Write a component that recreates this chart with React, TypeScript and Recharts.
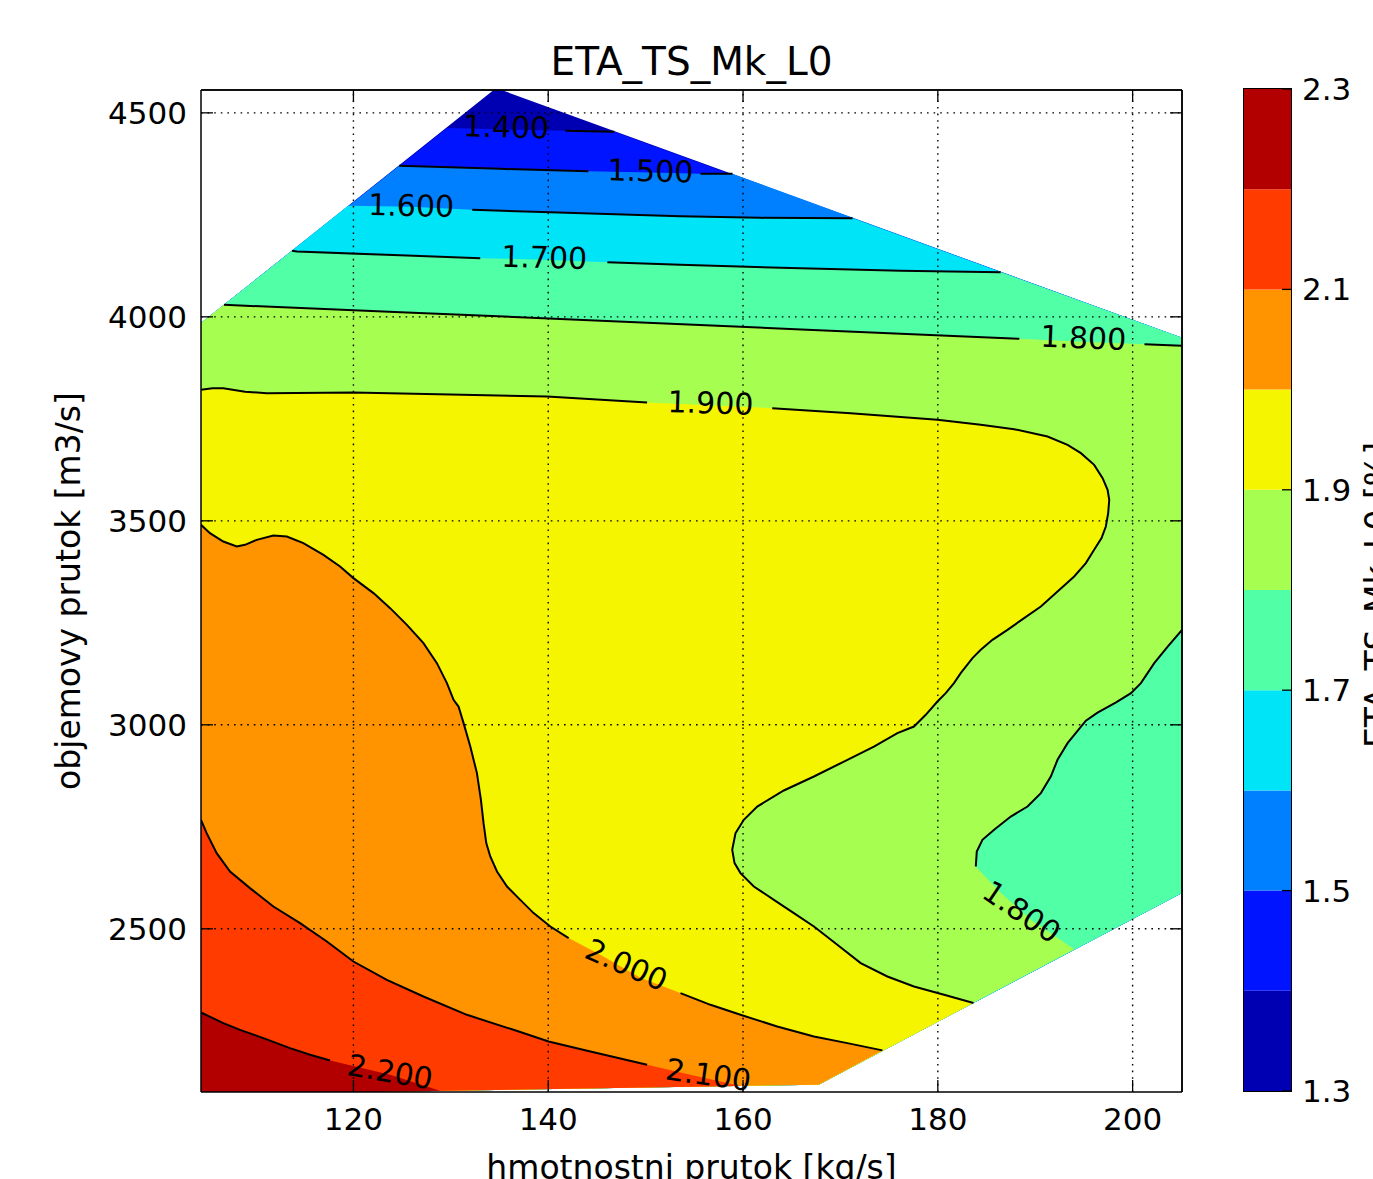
import React from 'react';
import { ComposedChart, Area, Line, Scatter, XAxis, YAxis, ReferenceLine, BarChart, Bar } from 'recharts';

type Pt = [number, number];

// contour levels and the colour of each band between two levels (jet)
const LEVELS = [1.3, 1.4, 1.5, 1.6, 1.7, 1.8, 1.9, 2.0, 2.1, 2.2, 2.3];
const BAND_COLORS = ['#0000b2', '#0014ff', '#0080ff', '#00e4f8', '#50ffa6', '#a6ff50', '#f5f500', '#ff9400', '#ff3b00', '#b20000'];

const X_TICKS = [120, 140, 160, 180, 200];
const Y_TICKS = [2500, 3000, 3500, 4000, 4500];
const CB_TICKS = [1.3, 1.5, 1.7, 1.9, 2.1, 2.3];
const X_DOMAIN: [number, number] = [104.35, 205.07];
const Y_DOMAIN: [number, number] = [2100, 4556];

// outline of the measured region (x = hmotnostni prutok, y = objemovy prutok)
const HULL: Pt[] = [
  [104.35, 2100], [104.35, 3985], [134.4, 4556], [135.2, 4556],
  [205.07, 3948.5], [205.07, 2588], [167.76, 2118], [122, 2100],
];

// iso-lines
const C140: Pt[] = [[129.63, 4463], [141.76, 4456], [146.79, 4453.4]];
const C150: Pt[] = [[124.7, 4370.1], [129.94, 4366.4], [135.07, 4362.7], [144.12, 4356.6], [150.49, 4354], [155.63, 4351], [158.2, 4350.5], [158.92, 4350.5]];
const C160: Pt[] = [[119.45, 4272], [125.9, 4270], [132.19, 4262.3], [140.2, 4256.1], [153.56, 4246.3], [161.78, 4242.6], [171.25, 4241.4]];
const C170: Pt[] = [[113.69, 4161.8], [114.21, 4160], [124.8, 4150.7], [133.02, 4143.9], [139.6, 4140], [146.07, 4134.1], [153.56, 4127.5], [165.9, 4118.9], [176.2, 4112.8], [186.45, 4109.1]];
const C180_TOP: Pt[] = [[106.71, 4029.4], [124.86, 4011.5], [145.41, 3990.4], [165.97, 3969.1], [188.37, 3946.1], [194.74, 3938.7], [201.22, 3932.9], [205.07, 3929]];
const C180_LOW: Pt[] = [
  [205.07, 3232.8], [203.6, 3191.9], [202.22, 3151.2], [200.85, 3102.2], [199.83, 3077.7], [198.3, 3055],
  [196.4, 3030], [195.2, 3010], [193.32, 2955.1], [192.29, 2914.2], [191.6, 2873.3], [190.58, 2832.6],
  [189.21, 2799.7], [187.49, 2775.2], [185.78, 2742.6], [184.58, 2718.1], [184, 2689.4], [183.9, 2652.7],
  [186.46, 2588.2], [189.55, 2522], [194.0, 2450],
];
const C190: Pt[] = [
  [104.35, 3821.1], [105.53, 3824.7], [106.64, 3825.2], [108.87, 3816.2], [111.1, 3813], [120, 3814.5],
  [129.94, 3809.6], [139.88, 3804.7], [150.15, 3790], [156.6, 3783], [163.0, 3776.2], [171.05, 3763.5],
  [179.96, 3747.5], [184.41, 3735.3], [187.83, 3724.7], [191.26, 3706.6], [193.32, 3686.3], [194.69, 3665.9],
  [196.05, 3637.2], [196.92, 3604.6], [197.43, 3576], [197.6, 3551.5], [197.49, 3518.9], [197.25, 3486],
  [196.81, 3457.6], [196.05, 3428.9], [195.2, 3396.3], [194.0, 3363.5], [192.29, 3326.7], [190.58, 3290],
  [188.86, 3261.5], [187.15, 3232.8], [185.61, 3208.3], [184.41, 3183.8], [183.56, 3163.5], [182.35, 3126.7],
  [181.66, 3102.2], [180.81, 3077.7], [179.96, 3057.1], [178.76, 3024.5], [177.55, 2995.8], [175.85, 2979.6],
  [173.44, 2946.8], [170.36, 2910], [167.28, 2873.3], [164.19, 2839], [161.46, 2799.7], [160.08, 2767.1],
  [159.23, 2734.6], [158.89, 2693.6], [159.13, 2661], [159.74, 2636.5], [161.11, 2603.7], [163.17, 2571.1],
  [165.22, 2538.5], [167.28, 2505.6], [169.68, 2460.8], [172.08, 2415.9], [174.82, 2383.1], [177.55, 2358.6],
  [180.64, 2338.2], [183.66, 2318],
];
const C200: Pt[] = [
  [104.35, 3490.2], [105.27, 3469.8], [106.64, 3449.3], [108.02, 3437], [108.87, 3441.2], [110.07, 3453.4],
  [111.78, 3464], [113.16, 3461.5], [114.86, 3445.3], [116.92, 3416.7], [118.63, 3388], [120, 3359.6],
  [122.06, 3322.8], [123.77, 3286], [125.49, 3245.1], [127.19, 3200.2], [128.57, 3151.2], [129.6, 3102.2],
  [130.28, 3061.3], [130.79, 3044.8], [131.31, 3004.2], [132, 2946.8], [132.68, 2881.6], [133.09, 2816.2],
  [133.36, 2759], [133.64, 2710], [134.05, 2677.2], [134.74, 2640.4], [135.77, 2603.7], [137.13, 2571],
  [138.5, 2538.5], [140.22, 2505.6], [142.1, 2477.2], [145.35, 2436.3], [149.47, 2380], [153.58, 2342.4],
  [156.66, 2313.7], [159.74, 2289.2], [163.51, 2260.5], [167.28, 2236], [170.71, 2219.8], [174.31, 2202],
];
const C210: Pt[] = [
  [104.35, 2767.1], [104.93, 2734.5], [105.96, 2685.5], [107.33, 2640.4], [109.38, 2599.7], [111.78, 2554.6],
  [114.52, 2513.9], [117.27, 2468.9], [120, 2419.8], [123.43, 2375], [127.19, 2334], [131.65, 2289.2],
  [136.44, 2252.4], [140.04, 2223.8], [144.33, 2199.2], [150.15, 2166.6], [154.6, 2142.1], [159.74, 2115],
];
const C220: Pt[] = [
  [104.35, 2294.8], [106.64, 2268.9], [108.36, 2252.4], [110.75, 2232.1], [113.49, 2207.6], [115.55, 2191.2],
  [117.6, 2177.2], [123.77, 2142.1], [128.9, 2103],
];

const CONTOUR_LABELS = [
  { level: 1.4, text: '1.400', x: 135.69, y: 4465.7, angle: 1.4, gapFrom: 129, gapTo: 141.5 },
  { level: 1.5, text: '1.500', x: 150.49, y: 4357.8, angle: 1.4, gapFrom: 144.5, gapTo: 155.3 },
  { level: 1.6, text: '1.600', x: 125.93, y: 4272.8, angle: 1.3, gapFrom: 119, gapTo: 132 },
  { level: 1.7, text: '1.700', x: 139.59, y: 4145.8, angle: 1.6, gapFrom: 133.5, gapTo: 145.8 },
  { level: 1.8, text: '1.800', x: 194.94, y: 3948.5, angle: 2.5, gapFrom: 188.6, gapTo: 201 },
  { level: 1.9, text: '1.900', x: 156.66, y: 3789, angle: 2, gapFrom: 150.5, gapTo: 162.8 },
  { level: 2.0, text: '2.000', x: 148.03, y: 2411.7, angle: 24, gapFrom: 142.3, gapTo: 153.3 },
  { level: 2.1, text: '2.100', x: 156.45, y: 2142.1, angle: 8, gapFrom: 150.5, gapTo: 162 },
  { level: 2.2, text: '2.200', x: 123.77, y: 2149.5, angle: 10, gapFrom: 117.8, gapTo: 135 },
  { level: 1.8, text: '1.800', x: 188.62, y: 2541.6, angle: 34, gapFrom: 184, gapTo: 195 },
];

const CONTOURS = [
  { level: 1.4, pts: C140 },
  { level: 1.5, pts: C150 },
  { level: 1.6, pts: C160 },
  { level: 1.7, pts: C170 },
  { level: 1.8, pts: C180_TOP },
  { level: 1.8, pts: C180_LOW },
  { level: 1.9, pts: C190 },
  { level: 2.0, pts: C200 },
  { level: 2.1, pts: C210 },
  { level: 2.2, pts: C220 },
];

// painter's order: each outline is the region where the value is >= its level
const [H1, H2, , , H3, H4, H5, H6] = HULL;
const BAND_OUTLINES: Pt[][] = [
  HULL,
  [H1, H2, ...C140, H3, H4, H5, H6],
  [H1, H2, ...C150, H3, H4, H5, H6],
  [H1, H2, ...C160, H3, H4, H5, H6],
  [H1, H2, ...C170, H3, H4, H5, H6],
  [H1, H2, ...C180_TOP, ...C180_LOW, H5, H6],
  [H1, ...C190, H5, H6],
  [H1, ...C200, H5, H6],
  [H1, ...C210, H6],
  [H1, ...C220, H6],
];

const toRing = (pts: Pt[]) => [...pts, pts[0]].map(([x, y]) => ({ x, y }));

const inGap = (level: number, x: number, y: number) =>
  CONTOUR_LABELS.some((l) => l.level === level && x > l.gapFrom && x < l.gapTo && Math.abs(y - l.y) < 150);

const lineData = (level: number, pts: Pt[]) => pts.map(([x, y]) => ({ x, y: inGap(level, x, y) ? null : y }));

const FONT = '"DejaVu Sans", Verdana, sans-serif';

const LabelShape = (props: any) => {
  const { cx, cy, payload } = props;
  return (
    <text
      x={cx}
      y={cy}
      transform={`rotate(${payload.angle} ${cx} ${cy})`}
      textAnchor="middle"
      dominantBaseline="central"
      fontSize={30}
      fontFamily={FONT}
      fill="#000"
    >
      {payload.text}
    </text>
  );
};

const hiddenTick = () => <g />;

const xLabel = (p: any) => {
  const vb = p.viewBox ?? { x: 201, y: 1092, width: 981 };
  return (
    <text x={vb.x + vb.width / 2} y={vb.y + 87} textAnchor="middle" fontSize={33} fontFamily={FONT} fill="#000">
      hmotnostni prutok [kg/s]
    </text>
  );
};

const yLabel = (p: any) => {
  const vb = p.viewBox ?? { x: 0, y: 90, height: 1002 };
  const cx = vb.x + 80;
  const cy = vb.y + vb.height / 2;
  return (
    <text x={cx} y={cy} transform={`rotate(-90 ${cx} ${cy})`} textAnchor="middle" fontSize={33} fontFamily={FONT} fill="#000">
      objemovy prutok [m3/s]
    </text>
  );
};

const cbLabel = (p: any) => {
  const vb = p.viewBox ?? { x: 47, y: 89, height: 1002 };
  const cx = vb.x + 98;
  const cy = vb.y + vb.height / 2 + 5;
  return (
    <text x={cx} y={cy} transform={`rotate(-90 ${cx} ${cy})`} textAnchor="middle" fontSize={33} fontFamily={FONT} fill="#000">
      ETA_TS_Mk_L0 [%]
    </text>
  );
};

const axisLine = { stroke: '#000', strokeWidth: 1.5 };
const tickLine = { stroke: '#000', strokeWidth: 1.3 };
const tickText = { fill: '#000', fontSize: 31, fontFamily: FONT };
const gridStyle = { stroke: '#000', strokeDasharray: '1.6 5', strokeWidth: 1.4 };

export default function App() {
  const bands = BAND_OUTLINES.map(toRing);
  const lines = CONTOURS.map((c) => lineData(c.level, c.pts));

  const cbRow: Record<string, any> = { name: 'cb', base: LEVELS[0] };
  BAND_COLORS.forEach((_, i) => {
    cbRow[`s${i}`] = LEVELS[i + 1] - LEVELS[i];
  });

  return (
    <div
      style={{
        position: 'absolute',
        left: 0,
        top: 0,
        width: 1373,
        height: 1179,
        background: '#fff',
        fontFamily: FONT,
        overflow: 'hidden',
      }}
    >
      <div style={{ position: 'absolute', left: 0, top: 0 }}>
        <ComposedChart width={1210} height={1179} margin={{ top: 89, right: 27, bottom: 0, left: 0 }}>
          <XAxis
            xAxisId={0}
            type="number"
            dataKey="x"
            domain={X_DOMAIN}
            allowDataOverflow
            ticks={X_TICKS}
            interval={0}
            height={87}
            tickSize={-12}
            tickMargin={28}
            axisLine={axisLine}
            tickLine={tickLine}
            tick={tickText}
            label={xLabel}
          />
          <XAxis
            xAxisId="top"
            orientation="top"
            type="number"
            dataKey="x"
            domain={X_DOMAIN}
            allowDataOverflow
            ticks={X_TICKS}
            interval={0}
            height={1}
            tickSize={-12}
            axisLine={axisLine}
            tickLine={tickLine}
            tick={hiddenTick}
          />
          <YAxis
            yAxisId={0}
            type="number"
            dataKey="y"
            domain={Y_DOMAIN}
            allowDataOverflow
            ticks={Y_TICKS}
            interval={0}
            width={201}
            tickSize={-12}
            tickMargin={26}
            axisLine={axisLine}
            tickLine={tickLine}
            tick={tickText}
            label={yLabel}
          />
          <YAxis
            yAxisId="right"
            orientation="right"
            type="number"
            dataKey="y"
            domain={Y_DOMAIN}
            allowDataOverflow
            ticks={Y_TICKS}
            interval={0}
            width={1}
            tickSize={-12}
            axisLine={axisLine}
            tickLine={tickLine}
            tick={hiddenTick}
          />
          {bands.map((d, i) => (
            <Area
              key={`band-${i}`}
              data={d}
              dataKey="y"
              type="linear"
              fill={BAND_COLORS[i]}
              fillOpacity={1}
              stroke="none"
              dot={false}
              activeDot={false}
              isAnimationActive={false}
            />
          ))}
          {X_TICKS.map((v) => (
            <ReferenceLine key={`gx-${v}`} x={v} {...gridStyle} />
          ))}
          {Y_TICKS.map((v) => (
            <ReferenceLine key={`gy-${v}`} y={v} {...gridStyle} />
          ))}
          <ReferenceLine x={X_DOMAIN[1]} stroke="#000" strokeWidth={1.5} />
          <ReferenceLine y={Y_DOMAIN[1]} stroke="#000" strokeWidth={1.5} />
          {lines.map((d, i) => (
            <Line
              key={`iso-${i}`}
              data={d}
              dataKey="y"
              type="linear"
              stroke="#000"
              strokeWidth={2}
              dot={false}
              activeDot={false}
              connectNulls={false}
              isAnimationActive={false}
            />
          ))}
          <Scatter data={CONTOUR_LABELS} dataKey="y" shape={LabelShape} isAnimationActive={false} />
        </ComposedChart>
      </div>

      <svg
        width={1373}
        height={90}
        style={{ position: 'absolute', left: 0, top: 0, pointerEvents: 'none' }}
      >
        <text x={691.5} y={75} textAnchor="middle" fontSize={39} fontFamily={FONT} fill="#000">
          ETA_TS_Mk_L0
        </text>
      </svg>

      <div style={{ position: 'absolute', left: 1244, top: 0 }}>
        <BarChart
          width={129}
          height={1179}
          data={[cbRow]}
          margin={{ top: 89, right: 0, bottom: 88, left: 0 }}
          barCategoryGap={0}
        >
          <XAxis dataKey="name" hide />
          <YAxis
            orientation="right"
            type="number"
            domain={[LEVELS[0], LEVELS[LEVELS.length - 1]]}
            allowDataOverflow
            ticks={CB_TICKS}
            interval={0}
            width={82}
            tickSize={-9}
            tickMargin={20}
            axisLine={false}
            tickLine={tickLine}
            tick={tickText}
            tickFormatter={(v: number) => v.toFixed(1)}
            label={cbLabel}
          />
          <Bar dataKey="base" stackId="cb" fill="none" isAnimationActive={false} />
          {BAND_COLORS.map((c, i) => (
            <Bar key={`cb-${i}`} dataKey={`s${i}`} stackId="cb" fill={c} isAnimationActive={false} />
          ))}
        </BarChart>
      </div>
      <div
        style={{
          position: 'absolute',
          left: 1243,
          top: 88,
          width: 49,
          height: 1004,
          border: '1.5px solid #000',
          boxSizing: 'border-box',
          pointerEvents: 'none',
        }}
      />
    </div>
  );
}
